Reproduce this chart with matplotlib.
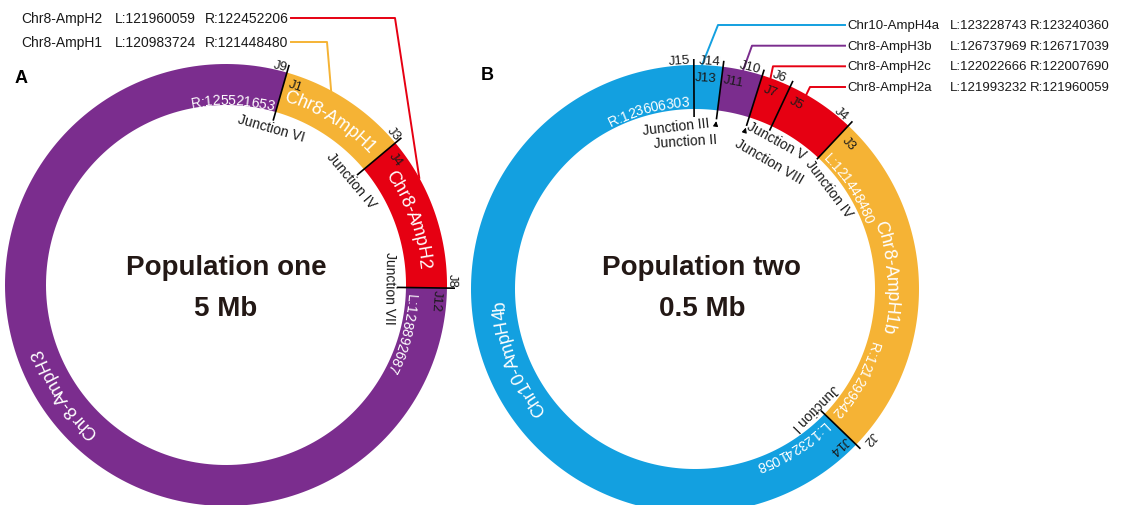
import numpy as np
import matplotlib
matplotlib.use('Agg')
import matplotlib.pyplot as plt
from matplotlib.patches import Polygon
from matplotlib.font_manager import FontProperties, findfont, get_font

plt.rcParams['font.family'] = ['Liberation Sans', 'DejaVu Sans']

RED = '#e60012'
YELLOW = '#f5b335'
PURPLE = '#7b2d8e'
BLUE = '#13a0e0'

#----------------------------------------------------------------------
# Population one (panel A)
#----------------------------------------------------------------------
p1_seg_names = ['Chr8-AmpH2', 'Chr8-AmpH1', 'Chr8-AmpH3']
p1_seg_start = [-0.8, 40.0, 74.0]
p1_seg_end = [40.0, 74.0, 359.2]
p1_seg_colors = [RED, YELLOW, PURPLE]
p1_name_angle = [20.0, 57.7, 213.8]

p1_junc_angle = [74.0, 40.0, -0.8]
p1_junc_out = ['J9', 'J3', 'J8']
p1_junc_in = ['J1', 'J4', 'J12']
p1_junc_names = ['Junction VI', 'Junction IV', 'Junction VII']

p1_coord_text = ['R:125521653', 'L:128892687']
p1_coord_angle = [88.0, -15.0]

p1_leg_names = ['Chr8-AmpH2', 'Chr8-AmpH1']
p1_leg_L = ['L:121960059', 'L:120983724']
p1_leg_R = ['R:122452206', 'R:121448480']
p1_leg_colors = [RED, YELLOW]
p1_leg_target = [29.0, 61.6]

#----------------------------------------------------------------------
# Population two (panel B)
#----------------------------------------------------------------------
p2_seg_names = ['Chr8-AmpH1b', 'Chr8-AmpH2a', 'Chr8-AmpH2c', 'Chr8-AmpH3b',
                'Chr10-AmpH4a', 'Chr10-AmpH4b']
p2_seg_start = [-44.0, 46.8, 64.8, 72.5, 82.8, 90.3]
p2_seg_end = [46.8, 64.8, 72.5, 82.8, 90.3, 316.0]
p2_seg_colors = [YELLOW, RED, RED, PURPLE, BLUE, BLUE]
p2_name_text = ['Chr8-AmpH1b', 'Chr10-AmpH4b']
p2_name_angle = [3.8, 201.0]

p2_junc_angle = [90.3, 82.8, 72.5, 64.8, 46.8, -44.0]
p2_junc_out = ['J15', 'J14', 'J10', 'J6', 'J4', 'J2']
p2_junc_in = ['J13', 'J11', 'J7', 'J5', 'J3', 'J14']
p2_junc_names = ['Junction III', 'Junction II', 'Junction VIII', 'Junction V',
                 'Junction IV', 'Junction I']
p2_junc_name_angle = [96.5, 93.8, 59.8, 61.2, 37.0, -44.5]

p2_coord_text = ['R:123606303', 'L:121448480', 'R:121299542', 'L:123241058']
p2_coord_angle = [104.7, 33.5, -29.0, -58.2]

p2_leg_names = ['Chr10-AmpH4a', 'Chr8-AmpH3b', 'Chr8-AmpH2c', 'Chr8-AmpH2a']
p2_leg_L = ['L:123228743', 'L:126737969', 'L:122022666', 'L:121993232']
p2_leg_R = ['R:123240360', 'R:126717039', 'R:122007690', 'R:121960059']
p2_leg_colors = [BLUE, PURPLE, RED, RED]
p2_leg_target = [88.2, 77.6, 70.3, 60.2]

#----------------------------------------------------------------------
# layout (pixels, y down)
#----------------------------------------------------------------------
W, H = 1138, 506
C1 = (226.0, 286.0)
C2 = (695.0, 290.0)
R1_IN, R1_OUT = 180.0, 221.0
R2_IN, R2_OUT = 180.0, 224.0
PX = 100 / 72.0
INK = '#1a1a1a'


def polar(c, r, th):
    t = np.radians(th)
    return c[0] + r * np.cos(t), c[1] - r * np.sin(t)


def advances(s, size, weight='normal'):
    try:
        prop = FontProperties(family=['Liberation Sans', 'DejaVu Sans'], weight=weight)
        font = get_font(findfont(prop))
        font.set_size(size, 100)
        return [font.load_char(ord(ch)).linearHoriAdvance / 65536 for ch in s]
    except Exception:
        return [0.56 * size * PX for ch in s]


def arc_text(ax, c, r, theta, s, size, color='white', weight='normal'):
    adv = advances(s, size, weight)
    rb = r - 0.716 * size * PX / 2
    pos = -sum(adv) / 2
    for ch, a in zip(s, adv):
        th = theta - np.degrees((pos + a / 2) / r)
        x, y = polar(c, rb, th)
        ax.text(x, y, ch, rotation=th - 90, rotation_mode='anchor', ha='center',
                va='baseline', fontsize=size, color=color, fontweight=weight)
        pos += a


def ring_segment(ax, c, r_in, r_out, t0, t1, color):
    t = np.linspace(t0, t1, 200)
    xo, yo = polar(c, r_out, t)
    xi, yi = polar(c, r_in, t[::-1])
    pts = np.column_stack([np.r_[xo, xi], np.r_[yo, yi]])
    ax.add_patch(Polygon(pts, closed=True, facecolor=color, edgecolor='none'))


def straight_text(ax, c, r, th, s, size=10, color=INK):
    x, y = polar(c, r, th)
    ax.text(x, y, s, rotation=th - 90, rotation_mode='anchor', ha='center',
            va='center', fontsize=size, color=color)


def junction_line(ax, c, th, r0, r1):
    x0, y0 = polar(c, r0, th)
    x1, y1 = polar(c, r1, th)
    ax.plot([x0, x1], [y0, y1], color='black', lw=1.2, solid_capstyle='butt')


fig = plt.figure(figsize=(W / 100, H / 100), dpi=100)
ax = fig.add_axes([0, 0, 1, 1])
ax.set_xlim(0, W)
ax.set_ylim(H, 0)
ax.axis('off')

# ---------------- panel A ----------------
for t0, t1, col in zip(p1_seg_start, p1_seg_end, p1_seg_colors):
    ring_segment(ax, C1, R1_IN, R1_OUT, t0, t1, col)
R1_MID = (R1_IN + R1_OUT) / 2
for name, th in zip(p1_seg_names, p1_name_angle):
    arc_text(ax, C1, R1_MID, th, name, 13)
for s, th in zip(p1_coord_text, p1_coord_angle):
    arc_text(ax, C1, R1_IN + 6, th, s, 10)
for th, jo, ji, jn in zip(p1_junc_angle, p1_junc_out, p1_junc_in, p1_junc_names):
    junction_line(ax, C1, th, R1_IN - 9, R1_OUT + 8)
    straight_text(ax, C1, R1_OUT + 5, th + 2.2, jo, 9.5)
    straight_text(ax, C1, R1_OUT - 10, th - 3.2, ji, 9.5)
    straight_text(ax, C1, R1_IN - 16, th, jn, 10)

ax.text(C1[0], 268, 'Population one', ha='center', va='center', fontsize=20,
        fontweight='bold', color='#231815')
ax.text(C1[0], 309, '5 Mb', ha='center', va='center', fontsize=20,
        fontweight='bold', color='#231815')
ax.text(15, 78, 'A', ha='left', va='center', fontsize=13, fontweight='bold')

leg1_y = [19, 43]
leg1_elbow = [395, 327]
for i in range(len(p1_leg_names)):
    y = leg1_y[i]
    ax.text(21, y, p1_leg_names[i], ha='left', va='center', fontsize=10, color=INK)
    ax.text(115, y, p1_leg_L[i], ha='left', va='center', fontsize=10, color=INK)
    ax.text(205, y, p1_leg_R[i], ha='left', va='center', fontsize=10, color=INK)
    xe, ye = polar(C1, R1_OUT, p1_leg_target[i])
    ax.plot([291, leg1_elbow[i], xe], [y, y, ye], color=p1_leg_colors[i], lw=1.4)

# ---------------- panel B ----------------
for t0, t1, col in zip(p2_seg_start, p2_seg_end, p2_seg_colors):
    ring_segment(ax, C2, R2_IN, R2_OUT, t0, t1, col)
R2_MID = (R2_IN + R2_OUT) / 2
for name, th in zip(p2_name_text, p2_name_angle):
    arc_text(ax, C2, R2_MID - 4, th, name, 13)
for s, th in zip(p2_coord_text, p2_coord_angle):
    arc_text(ax, C2, R2_IN + 8, th, s, 10)

junc_lo = [172, 171, 171, 175, 178, 175]
for i, th in enumerate(p2_junc_angle):
    junction_line(ax, C2, th, junc_lo[i], R2_OUT + 6)
    straight_text(ax, C2, R2_OUT + 5, th + 3.5, p2_junc_out[i], 9.5)
    straight_text(ax, C2, R2_OUT - 12, th - 3.3, p2_junc_in[i], 9.5)

junc_name_r = [164, 148, 148, 170, 168, 168]
for s, th, r in zip(p2_junc_names, p2_junc_name_angle, junc_name_r):
    straight_text(ax, C2, r, th, s, 10)
for k in (1, 2):
    th = p2_junc_angle[k]
    ax.annotate('', xy=polar(C2, junc_lo[k] + 1, th), xytext=polar(C2, junc_lo[k] - 8, th),
                arrowprops=dict(arrowstyle='-|>', lw=0.8, color='black', mutation_scale=7))

ax.text(C2[0] + 7, 268, 'Population two', ha='center', va='center', fontsize=20,
        fontweight='bold', color='#231815')
ax.text(C2[0] + 7, 309, '0.5 Mb', ha='center', va='center', fontsize=20,
        fontweight='bold', color='#231815')
ax.text(481, 75, 'B', ha='left', va='center', fontsize=13, fontweight='bold')

leg2_y = [26, 46.7, 67.3, 88]
leg2_elbow = [718, 752, 773, 810]
for i in range(len(p2_leg_names)):
    y = leg2_y[i]
    ax.text(847, y, p2_leg_names[i], ha='left', va='center', fontsize=9.5, color=INK)
    ax.text(950, y, p2_leg_L[i], ha='left', va='center', fontsize=9.5, color=INK)
    ax.text(1030, y, p2_leg_R[i], ha='left', va='center', fontsize=9.5, color=INK)
    xe, ye = polar(C2, R2_OUT, p2_leg_target[i])
    ax.plot([845, leg2_elbow[i], xe], [y, y, ye], color=p2_leg_colors[i], lw=1.4)

fig.savefig('out.png', dpi=100)
